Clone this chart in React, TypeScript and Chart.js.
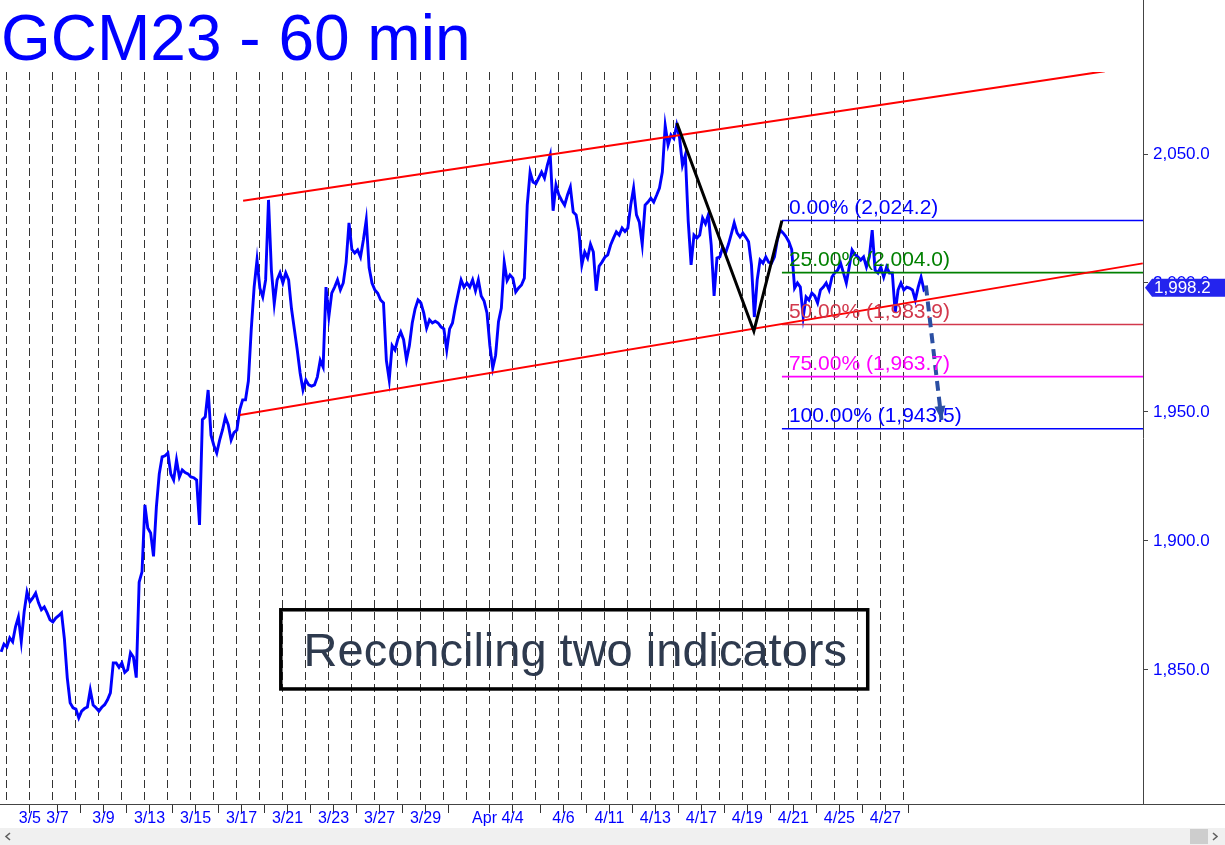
import React, { useEffect, useRef } from 'react';
import { Chart, registerables } from 'chart.js';

Chart.register(...registerables);

// ---------------- data ----------------
const TITLE = 'GCM23 - 60 min';
const NOTE = 'Reconciling two indicators';

// price every 1/8 session, starting at session -0.25
const PRICE_START_DAY = -0.25;
const PRICE_STEP_DAY = 0.125;
const prices = [
  1857.0, 1860.0, 1858.9, 1862.4, 1860.9, 1866.7, 1870.5, 1861.0, 1872.5, 1880.2,
  1876.4, 1877.9, 1879.8, 1876.0, 1873.3, 1874.4, 1872.1, 1869.4, 1868.6, 1870.1,
  1871.0, 1872.1, 1862.0, 1846.9, 1837.2, 1835.3, 1834.8, 1831.4, 1834.0, 1835.0,
  1835.6, 1842.2, 1836.4, 1835.3, 1834.0, 1835.5, 1836.5, 1838.4, 1841.1, 1852.7,
  1852.7, 1851.0, 1852.7, 1849.0, 1850.0, 1856.6, 1855.0, 1847.0, 1884.0, 1888.0,
  1914.0, 1905.0, 1903.1, 1894.0, 1913.2, 1926.0, 1932.6, 1933.0, 1934.1, 1926.0,
  1923.6, 1931.4, 1924.8, 1927.5, 1926.5, 1926.0, 1924.8, 1924.5, 1923.6, 1906.2,
  1947.0, 1948.1, 1958.5, 1941.0, 1937.0, 1934.1, 1939.1, 1943.0, 1948.0, 1945.0,
  1939.1, 1942.0, 1943.0, 1950.8, 1954.7, 1954.7, 1962.0, 1982.0, 1998.4, 2008.9,
  1998.0, 1994.6, 2001.2, 2032.2, 2005.0, 1992.0, 2001.2, 2003.9, 2000.0, 2003.9,
  2001.2, 1990.0, 1982.0, 1974.0, 1965.1, 1958.5, 1962.4, 1960.5, 1960.0, 1960.5,
  1963.6, 1970.0, 1967.4, 1998.4, 1987.0, 1996.1, 1998.4, 2001.2, 1997.3, 2000.0,
  2008.0, 2023.3, 2013.0, 2011.6, 2012.8, 2010.1, 2016.7, 2024.4, 2006.0, 2000.0,
  1997.3, 1996.0, 1993.4, 1992.3, 1970.0, 1962.4, 1975.7, 1974.0, 1978.3, 1981.0,
  1978.0, 1970.2, 1975.7, 1984.5, 1990.0, 1993.4, 1992.3, 1988.4, 1982.5, 1985.7,
  1984.5, 1985.2, 1984.5, 1983.0, 1982.2, 1974.0, 1982.2, 1984.5, 1990.7, 1996.0,
  2001.2, 1998.4, 2000.0, 1998.4, 2001.2, 1997.0, 2001.2, 1995.0, 1993.0, 1988.4,
  1975.7, 1967.0, 1972.0, 1985.0, 1990.3, 2008.0, 2001.0, 2003.1, 2001.9, 1996.5,
  1998.1, 1999.2, 2001.9, 2030.2, 2043.0, 2039.1, 2038.5, 2040.7, 2043.0, 2040.7,
  2045.7, 2049.6, 2028.0, 2038.0, 2034.1, 2032.0, 2030.2, 2034.1, 2037.2, 2027.5,
  2026.4, 2020.0, 2007.0, 2012.0, 2009.7, 2015.0, 2012.0, 1997.0, 2006.5, 2008.1,
  2010.0, 2010.9, 2014.7, 2017.4, 2019.8, 2018.6, 2021.3, 2020.0, 2021.3, 2030.2,
  2036.8, 2026.4, 2023.6, 2015.0, 2030.2, 2031.4, 2032.9, 2031.4, 2034.0, 2036.8,
  2043.0, 2061.0, 2053.5, 2057.4, 2056.0, 2061.2, 2056.2, 2045.7, 2049.6, 2024.0,
  2007.0, 2018.6, 2017.4, 2018.6, 2025.2, 2023.0, 2026.4, 2014.7, 1995.0, 2009.7,
  2010.1, 2014.0, 2011.6, 2015.0, 2019.0, 2023.3, 2019.4, 2017.8, 2019.4, 2017.8,
  2016.0, 2007.0, 1986.8, 2001.2, 2008.9, 2007.7, 2010.1, 2008.0, 2007.7, 2010.1,
  2016.7, 2020.5, 2019.4, 2018.0, 2016.0, 2013.0, 1998.0, 2000.0, 1998.4, 1986.8,
  1994.6, 1993.4, 1996.1, 1995.0, 1992.3, 1997.3, 1998.4, 2000.0, 1997.3, 2002.3,
  2004.0, 2005.0, 2007.7, 2003.9, 2000.0, 2006.2, 2012.8, 2011.0, 2010.1, 2008.9,
  2010.1, 2006.2, 2010.1, 2020.5, 2005.0, 2003.9, 2006.2, 2002.3, 2006.2, 2003.9,
  2003.9, 1988.4, 1997.3, 2000.0, 1997.3, 1998.4, 1998.0, 1997.3, 1993.4, 1998.4,
  2002.3, 1997.3, 1998.2,
];
const LAST_PRICE = 1998.2;

// axes
const DAY_MIN = -0.3;
const DAY_MAX = 49.4;
const PRICE_MIN = 1798;
const PRICE_MAX = 2081.8;
const yTicks = [1850, 1900, 1950, 2000, 2050];
const SESSION_COUNT = 40; // dashed session separators at 0..39
const xTickMarkDays = [
  1.0, 2.2, 3.2, 4.2, 5.2, 6.2, 7.2, 8.2, 9.2, 10.2, 11.2, 12.2, 13.2, 14.2, 15.2, 16.2,
  17.2, 18.2, 19.2, 21.0, 22.0, 23.2, 24.2, 25.2, 26.2, 27.2, 28.2, 29.2, 30.2, 31.2,
  32.2, 33.2, 34.2, 35.2, 36.2, 37.2, 38.2, 39.2,
];
const xLabels = ['3/5', '3/7', '3/9', '3/13', '3/15', '3/17', '3/21', '3/23', '3/27', '3/29',
  'Apr 4/4', '4/6', '4/11', '4/13', '4/17', '4/19', '4/21', '4/25', '4/27'];
const xLabelDays = [1.0, 2.2, 4.2, 6.2, 8.2, 10.2, 12.2, 14.2, 16.2, 18.2,
  21.35, 24.2, 26.2, 28.2, 30.2, 32.2, 34.2, 36.2, 38.2];

// channel
const upperChannelDays = [10.27, 47.74];
const upperChannelPrices = [2031.9, 2082.1];
const lowerChannelDays = [10.13, 49.39];
const lowerChannelPrices = [1948.8, 2007.6];

// ABC zigzag
const zigzagDays = [29.13, 32.48, 33.7];
const zigzagPrices = [2062.0, 1981.3, 2024.2];

// Fibonacci retracement levels
const FIB_START_DAY = 33.7;
const fibPcts = ['0.00%', '25.00%', '50.00%', '75.00%', '100.00%'];
const fibLevels = [2024.2, 2004.0, 1983.9, 1963.7, 1943.5];
const fibColors = ['#0000ff', '#008000', '#d2384c', '#ff00ff', '#0000ff'];

// projected path arrow
const arrowDays = [39.96, 40.64];
const arrowPrices = [1999.0, 1946.9];

// note box
const noteBoxDays = [11.91, 37.43];
const noteBoxPrices = [1873.3, 1842.6];

// ---------------- helpers ----------------
const FONT = '"Liberation Sans", Arial, Helvetica, sans-serif';
const fmt = (v: number) =>
  v.toLocaleString('en-US', { minimumFractionDigits: 1, maximumFractionDigits: 1 });
const pts = (xs: number[], ys: number[]) => xs.map((x, i) => ({ x, y: ys[i] }));

const overlay = {
  id: 'overlay',
  afterDatasetsDraw(chart: any) {
    const { ctx, scales } = chart;
    const x = scales.x;
    const y = scales.y;
    ctx.save();
    // fib labels
    ctx.font = `21px ${FONT}`;
    ctx.textBaseline = 'alphabetic';
    ctx.textAlign = 'left';
    fibLevels.forEach((lv, i) => {
      ctx.fillStyle = fibColors[i];
      ctx.fillText(`${fibPcts[i]} (${fmt(lv)})`, x.getPixelForValue(FIB_START_DAY) + 7, y.getPixelForValue(lv) - 7);
    });
    // arrow head
    const x1 = x.getPixelForValue(arrowDays[0]);
    const y1 = y.getPixelForValue(arrowPrices[0]);
    const x2 = x.getPixelForValue(arrowDays[1]);
    const y2 = y.getPixelForValue(arrowPrices[1]);
    const ang = Math.atan2(y2 - y1, x2 - x1);
    const L = 14, W = 5.5;
    ctx.fillStyle = '#2b4fa3';
    ctx.beginPath();
    ctx.moveTo(x2, y2);
    ctx.lineTo(x2 - L * Math.cos(ang) + W * Math.sin(ang), y2 - L * Math.sin(ang) - W * Math.cos(ang));
    ctx.lineTo(x2 - L * Math.cos(ang) - W * Math.sin(ang), y2 - L * Math.sin(ang) + W * Math.cos(ang));
    ctx.closePath();
    ctx.fill();
    // note box
    const bx1 = x.getPixelForValue(noteBoxDays[0]);
    const bx2 = x.getPixelForValue(noteBoxDays[1]);
    const by1 = y.getPixelForValue(noteBoxPrices[0]);
    const by2 = y.getPixelForValue(noteBoxPrices[1]);
    ctx.strokeStyle = '#000';
    ctx.lineWidth = 3.5;
    ctx.strokeRect(bx1, by1, bx2 - bx1, by2 - by1);
    ctx.fillStyle = '#2e3a4e';
    ctx.font = `47px ${FONT}`;
    ctx.textAlign = 'center';
    ctx.fillText(NOTE, (bx1 + bx2) / 2 + 1, (by1 + by2) / 2 + 16.8);
    ctx.restore();
  },
  afterDraw(chart: any) {
    const { ctx, scales, chartArea, width, height } = chart;
    const y = scales.y;
    ctx.save();
    // title
    ctx.fillStyle = '#0000ff';
    ctx.font = `64px ${FONT}`;
    ctx.textAlign = 'left';
    ctx.textBaseline = 'alphabetic';
    ctx.fillText(TITLE, 1, 60);
    // axis line extensions
    ctx.strokeStyle = '#444';
    ctx.lineWidth = 1;
    ctx.beginPath();
    ctx.moveTo(Math.round(chartArea.right) + 0.5, 0);
    ctx.lineTo(Math.round(chartArea.right) + 0.5, chartArea.top);
    ctx.moveTo(chartArea.right, Math.round(chartArea.bottom) + 0.5);
    ctx.lineTo(width, Math.round(chartArea.bottom) + 0.5);
    ctx.stroke();
    // last price tag
    const py = y.getPixelForValue(LAST_PRICE);
    const r = chartArea.right;
    ctx.fillStyle = '#2424ee';
    ctx.beginPath();
    ctx.moveTo(r + 2, py);
    ctx.lineTo(r + 9, py - 9);
    ctx.lineTo(width, py - 9);
    ctx.lineTo(width, py + 9);
    ctx.lineTo(r + 9, py + 9);
    ctx.closePath();
    ctx.fill();
    ctx.fillStyle = '#ffffff';
    ctx.font = `17px ${FONT}`;
    ctx.textBaseline = 'middle';
    ctx.fillText(fmt(LAST_PRICE), r + 11, py + 1);
    // scrollbar
    ctx.fillStyle = '#f0f0f0';
    ctx.fillRect(0, height - 17, width, 17);
    ctx.fillStyle = '#cdcdcd';
    ctx.fillRect(width - 35, height - 16, 18, 15);
    ctx.strokeStyle = '#606060';
    ctx.lineWidth = 1.6;
    ctx.beginPath();
    ctx.moveTo(10, height - 12);
    ctx.lineTo(6, height - 8.5);
    ctx.lineTo(10, height - 5);
    ctx.moveTo(width - 12, height - 12);
    ctx.lineTo(width - 8, height - 8.5);
    ctx.lineTo(width - 12, height - 5);
    ctx.stroke();
    ctx.restore();
  },
};

const TRANSPARENT = 'rgba(0,0,0,0)';

export default function App() {
  const ref = useRef<HTMLCanvasElement>(null);
  useEffect(() => {
    document.body.style.margin = '0';
    const lineDs = (data: any[], color: string, width: number, order: number, extra: any = {}) => ({
      data,
      borderColor: color,
      backgroundColor: color,
      borderWidth: width,
      pointRadius: 0,
      tension: 0,
      fill: false,
      order,
      ...extra,
    });
    const datasets: any[] = [
      lineDs(prices.map((p, i) => ({ x: PRICE_START_DAY + i * PRICE_STEP_DAY, y: p })), '#0000ff', 2.9, 10,
        { borderJoinStyle: 'miter' }),
      lineDs(pts(upperChannelDays, upperChannelPrices), '#ff0000', 2, 5),
      lineDs(pts(lowerChannelDays, lowerChannelPrices), '#ff0000', 2, 5),
      ...fibLevels.map((lv, i) => lineDs([{ x: FIB_START_DAY, y: lv }, { x: DAY_MAX, y: lv }], fibColors[i], 1.6, 6)),
      lineDs(pts(zigzagDays, zigzagPrices), '#000000', 3, 2),
      lineDs(pts(arrowDays, arrowPrices), '#2b4fa3', 4, 1, { borderDash: [10, 6] }),
    ];
    const chart = new Chart(ref.current as HTMLCanvasElement, {
      type: 'line',
      data: { datasets },
      options: {
        animation: false,
        responsive: false,
        events: [],
        layout: { padding: { top: 72, left: 0, right: 0, bottom: 0 } },
        plugins: { legend: { display: false }, tooltip: { enabled: false }, title: { display: false } },
        scales: {
          x: {
            type: 'linear',
            position: 'bottom',
            min: DAY_MIN,
            max: DAY_MAX,
            afterFit: (s: any) => { s.height = 41; },
            afterBuildTicks: (s: any) => {
              const t: any[] = [];
              for (let d = 0; d < SESSION_COUNT; d++) t.push({ value: d, kind: 'line' });
              xTickMarkDays.forEach((v) => t.push({ value: v, kind: 'mark' }));
              xLabelDays.forEach((v, i) => t.push({ value: v, kind: 'label', text: xLabels[i] }));
              t.sort((a, b) => a.value - b.value);
              s.ticks = t;
            },
            grid: {
              display: true,
              drawOnChartArea: true,
              drawTicks: true,
              tickLength: 9,
              lineWidth: 1,
              color: (c: any) => (c.tick && c.tick.kind === 'line' ? '#333333' : TRANSPARENT),
              tickColor: (c: any) => (c.tick && c.tick.kind === 'mark' ? '#333333' : TRANSPARENT),
            },
            border: { display: true, color: '#444', width: 1, dash: [8, 4] },
            ticks: {
              autoSkip: false,
              maxRotation: 0,
              minRotation: 0,
              padding: -2,
              color: '#0000ff',
              font: { family: FONT, size: 16, lineHeight: 1 },
              callback: (_v: any, i: number, ticks: any[]) => (ticks[i].kind === 'label' ? ticks[i].text : ''),
            },
          },
          y: {
            type: 'linear',
            position: 'right',
            min: PRICE_MIN,
            max: PRICE_MAX,
            afterFit: (s: any) => { s.width = 82; },
            afterBuildTicks: (s: any) => { s.ticks = yTicks.map((v) => ({ value: v })); },
            grid: { drawOnChartArea: false, drawTicks: true, tickLength: 5, color: '#444' },
            border: { display: true, color: '#444', width: 1 },
            ticks: {
              padding: 5,
              color: '#0000ff',
              font: { family: FONT, size: 17 },
              callback: (v: any) => fmt(Number(v)),
            },
          },
        },
      },
      plugins: [overlay],
    } as any);
    return () => chart.destroy();
  }, []);
  return (
    <div style={{ width: 1225, height: 845, position: 'relative' }}>
      <canvas ref={ref} width={1225} height={845} style={{ display: 'block' }} />
    </div>
  );
}
